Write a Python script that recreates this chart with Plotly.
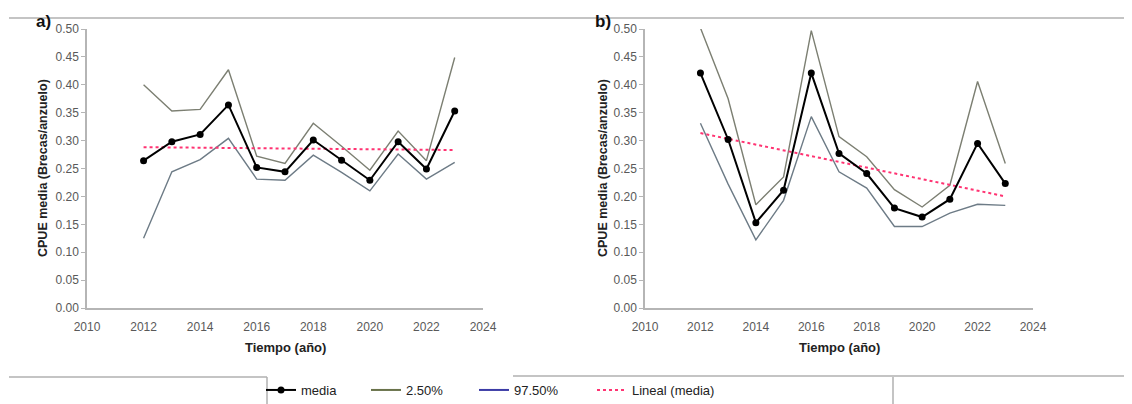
import numpy as np
import plotly.graph_objects as go

years = [2012, 2013, 2014, 2015, 2016, 2017, 2018, 2019, 2020, 2021, 2022, 2023]

# Panel a)
media_a = [0.264, 0.298, 0.311, 0.364, 0.252, 0.244, 0.301, 0.265, 0.229, 0.298, 0.249, 0.353]
p025_a = [0.400, 0.353, 0.356, 0.427, 0.272, 0.259, 0.331, 0.290, 0.247, 0.317, 0.264, 0.449]
p975_a = [0.125, 0.244, 0.266, 0.304, 0.231, 0.229, 0.274, 0.243, 0.210, 0.276, 0.231, 0.261]

# Panel b)
media_b = [0.421, 0.302, 0.153, 0.211, 0.421, 0.277, 0.241, 0.179, 0.163, 0.195, 0.295, 0.223]
p025_b = [0.502, 0.375, 0.185, 0.235, 0.497, 0.307, 0.271, 0.212, 0.181, 0.220, 0.406, 0.259]
p975_b = [0.331, 0.222, 0.122, 0.193, 0.343, 0.244, 0.215, 0.146, 0.146, 0.170, 0.186, 0.184]

legend_names = ["media", "2.50%", "97.50%", "Lineal (media)"]
x_ticks = [2010, 2012, 2014, 2016, 2018, 2020, 2022, 2024]
y_ticks = [0.00, 0.05, 0.10, 0.15, 0.20, 0.25, 0.30, 0.35, 0.40, 0.45, 0.50]

FONT = "Liberation Sans, Arial, sans-serif"
W, H = 1132, 404
OFF = 8  # page body margin

C_UP = "#7c7f72"
C_LO = "#6d7b86"
C_TREND = "#ff3372"

fig = go.Figure()


def trend(y):
    k, b = np.polyfit(years, y, 1)
    return [k * x + b for x in years]


for i, (m, up, lo) in enumerate([(media_a, p025_a, p975_a), (media_b, p025_b, p975_b)]):
    xa = "x" if i == 0 else "x2"
    ya = "y" if i == 0 else "y2"
    fig.add_trace(go.Scatter(x=years, y=up, mode="lines", line=dict(color=C_UP, width=1.4),
                             xaxis=xa, yaxis=ya, showlegend=False))
    fig.add_trace(go.Scatter(x=years, y=lo, mode="lines", line=dict(color=C_LO, width=1.4),
                             xaxis=xa, yaxis=ya, showlegend=False))
    fig.add_trace(go.Scatter(x=years, y=trend(m), mode="lines",
                             line=dict(color=C_TREND, width=2, dash="dot"),
                             xaxis=xa, yaxis=ya, showlegend=False))
    fig.add_trace(go.Scatter(x=years, y=m, mode="lines+markers",
                             line=dict(color="black", width=2),
                             marker=dict(color="black", size=7),
                             xaxis=xa, yaxis=ya, showlegend=False))

# legend entries (one legend per entry for exact placement)
leg_styles = [
    dict(mode="lines+markers", line=dict(color="black", width=2), marker=dict(color="black", size=7)),
    dict(mode="lines", line=dict(color="#69724a", width=2)),
    dict(mode="lines", line=dict(color="#3b3ba6", width=2)),
    dict(mode="lines", line=dict(color=C_TREND, width=2, dash="dot")),
]
leg_ids = ["legend", "legend2", "legend3", "legend4"]
leg_text_x = [302, 407, 515, 633]
for name, st, lid in zip(legend_names, leg_styles, leg_ids):
    fig.add_trace(go.Scatter(x=[None], y=[None], name=name, showlegend=True, legend=lid, **st))


def px_x(p):
    return (p - OFF) / W


def px_y(p):
    return 1 - (p - OFF) / H


ydom = [px_y(308), px_y(29)]
axis_common = dict(showgrid=False, zeroline=False, showline=True, linecolor="#b5b5b5", linewidth=1.5,
                   automargin=False,
                   tickfont=dict(family=FONT, size=12, color="#595959"))

leg_layout = {}
for lid, tx in zip(leg_ids, leg_text_x):
    leg_layout[lid] = dict(orientation="h", x=px_x(tx - 41), y=px_y(390), xanchor="left", yanchor="middle",
                           font=dict(family=FONT, size=13, color="#222222"), bgcolor="rgba(0,0,0,0)")

fig.update_layout(
    width=W, height=H,
    margin=dict(l=0, r=0, t=0, b=0, autoexpand=False),
    paper_bgcolor="white", plot_bgcolor="white",
    font=dict(family=FONT, color="#222222"),
    xaxis=dict(domain=[px_x(87), px_x(483)], range=[2010, 2024], tickvals=x_ticks,
               ticks="outside", ticklen=7, tickcolor="rgba(0,0,0,0)", anchor="y", **axis_common),
    yaxis=dict(domain=ydom, range=[0, 0.5], tickvals=y_ticks, tickformat=".2f",
               ticks="outside", ticklen=4, tickcolor="#b5b5b5", anchor="x", **axis_common),
    xaxis2=dict(domain=[px_x(645), px_x(1033)], range=[2010, 2024], tickvals=x_ticks,
                ticks="outside", ticklen=7, tickcolor="rgba(0,0,0,0)", anchor="y2", **axis_common),
    yaxis2=dict(domain=ydom, range=[0, 0.5], tickvals=y_ticks, tickformat=".2f",
                ticks="outside", ticklen=4, tickcolor="#b5b5b5", anchor="x2", **axis_common),
    showlegend=True,
    **leg_layout,
)

ann = []
for cx in [285, 839]:
    ann.append(dict(text="<b>Tiempo (año)</b>", x=px_x(cx), y=px_y(347), xref="paper", yref="paper",
                    showarrow=False, font=dict(family=FONT, size=13, color="#222222"),
                    xanchor="center", yanchor="middle"))
for cx in [43, 603]:
    ann.append(dict(text="<b>CPUE media (Brecas/anzuelo)</b>", x=px_x(cx), y=px_y(168), xref="paper",
                    yref="paper", showarrow=False, textangle=-90,
                    font=dict(family=FONT, size=12.5, color="#222222"), xanchor="center", yanchor="middle"))
ann.append(dict(text="<b>a)</b>", x=px_x(43), y=px_y(21), xref="paper", yref="paper", showarrow=False,
                font=dict(family=FONT, size=17, color="#111111"), xanchor="center", yanchor="middle"))
ann.append(dict(text="<b>b)</b>", x=px_x(603), y=px_y(21), xref="paper", yref="paper", showarrow=False,
                font=dict(family=FONT, size=17, color="#111111"), xanchor="center", yanchor="middle"))
fig.update_layout(annotations=ann)

line_c = "#b0b0b0"
shapes = [
    dict(type="line", xref="paper", yref="paper", x0=px_x(9), x1=1, y0=px_y(18), y1=px_y(18),
         line=dict(color=line_c, width=1.5)),
    dict(type="line", xref="paper", yref="paper", x0=px_x(9), x1=px_x(267), y0=px_y(377), y1=px_y(377),
         line=dict(color=line_c, width=1.5)),
    dict(type="line", xref="paper", yref="paper", x0=px_x(267), x1=px_x(267), y0=px_y(377), y1=0,
         line=dict(color=line_c, width=1.5)),
    dict(type="line", xref="paper", yref="paper", x0=px_x(513), x1=1, y0=px_y(376), y1=px_y(376),
         line=dict(color=line_c, width=1.5)),
    dict(type="line", xref="paper", yref="paper", x0=px_x(893), x1=px_x(893), y0=px_y(377), y1=0,
         line=dict(color=line_c, width=1.5)),
]
fig.update_layout(shapes=shapes)

fig.write_html("out.html")
